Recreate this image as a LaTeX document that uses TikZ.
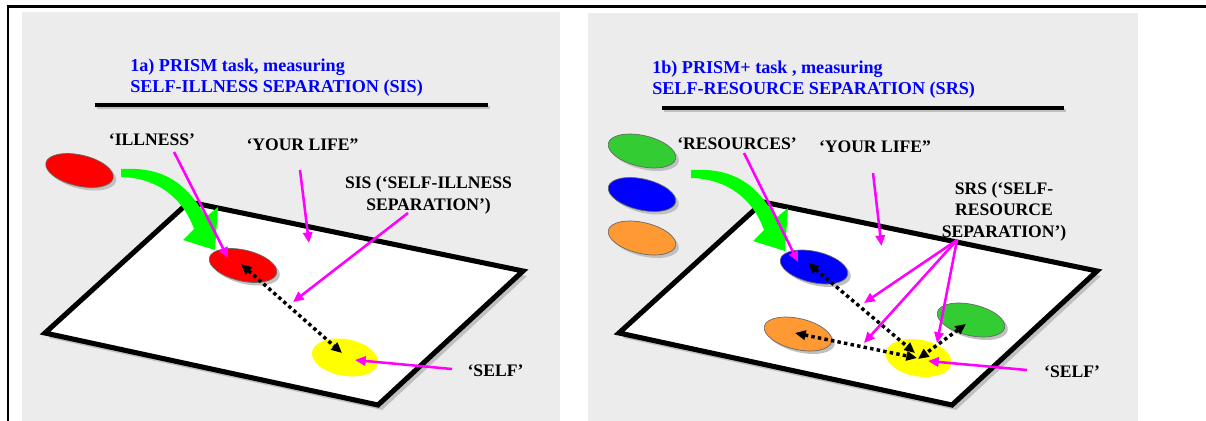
\documentclass[tikz,border=0pt]{standalone}
\usepackage{fontspec}
\setmainfont{Liberation Serif}
\newfontfamily\tnr{Liberation Serif}
\usetikzlibrary{shapes.geometric,arrows.meta,shadows}
\definecolor{panelgray}{RGB}{236,236,236}
\definecolor{shadowgray}{RGB}{192,192,192}
\definecolor{mag}{RGB}{255,0,255}
\definecolor{ttlblue}{RGB}{0,0,255}
\definecolor{grnarrow}{RGB}{0,255,0}
\definecolor{ellred}{RGB}{255,0,0}
\definecolor{ellyellow}{RGB}{255,255,0}
\definecolor{ellblue}{RGB}{0,0,255}
\definecolor{ellgreen}{RGB}{51,204,51}
\definecolor{ellorange}{RGB}{255,153,51}
\begin{document}
\begin{tikzpicture}[x=0.75pt,y=-0.75pt,
  ell/.style={ellipse, draw=black!60, line width=0.5pt, inner sep=0pt,
    minimum width=51.75pt, minimum height=23.25pt, rotate=-13,
    drop shadow={shadow xshift=2.25pt, shadow yshift=-2.25pt, opacity=1, fill=shadowgray}},
  selfell/.style={ellipse, fill=ellyellow, inner sep=0pt,
    minimum width=50pt, minimum height=27.5pt, rotate=-10},
  lbl/.style={font=\tnr\fontsize{13.2pt}{15.9pt}\selectfont\bfseries, inner sep=0pt, text=black},
  ttl/.style={font=\tnr\fontsize{13.6pt}{15.75pt}\selectfont\bfseries, inner sep=0pt, text=ttlblue},
  magarrow/.style={draw=mag, line width=1.9pt, -{Triangle[length=8pt,width=7pt]}},
  dotarrow/.style={draw=black, line width=2.6pt, dash pattern=on 2.6pt off 2.4pt,
    {Triangle[length=8pt,width=7pt]}-{Triangle[length=8pt,width=7pt]}},
  paperstyle/.style={fill=white, draw=black, line width=3.8pt, line join=miter},
  uline/.style={line width=2.4pt}
]
\useasboundingbox (0,0) rectangle (1206,421);
% frame lines
\draw[line width=1.6pt] (7,6.5) -- (1206,6.5);
\draw[line width=1.6pt] (8,6) -- (8,421);
% panels
\fill[panelgray] (22,12) rectangle (560,421);
\fill[panelgray] (588,13) rectangle (1138,421);

% ---------- LEFT PANEL ----------
\draw[uline, shadowgray] (96.5,107.5) -- (490,107.5);
\draw[uline] (94.5,105) -- (488,105);
\node[ttl, anchor=base west, align=left] (ttlA) at (130,92.5) {1a) PRISM task, measuring\\SELF-ILLNESS SEPARATION (SIS)};

\fill[shadowgray] (193,207) -- (527,276) -- (382,410) -- (49,338) -- cycle;
\draw[paperstyle] (189,202) -- (523,271) -- (378,405) -- (45,333) -- cycle;

\fill[grnarrow] (121,169) .. controls (170,166) and (190,190) .. (206,217)
  -- (218,207) -- (215,250) -- (183,240) -- (194,229)
  .. controls (185,203) and (162,178) .. (121,177) -- cycle;

\node[ell, fill=ellred] (illOut) at (79.5,170.5) {};
\node[ell, fill=ellred] (illIn) at (243,265.5) {};
\node[selfell] (selfA) at (345,357.5) {};

\coordinate (dA1) at (241,264);
\coordinate (dA2) at (342,353);
\draw[dotarrow] (dA1) -- (dA2);

\node[lbl, anchor=base] (illnessT) at (152,145) {‘ILLNESS’};
\node[lbl, anchor=base] (lifeAT) at (302.5,150) {‘YOUR LIFE”};
\node[lbl, anchor=base, align=center] (sisT) at (428.5,210) {SIS (‘SELF-ILLNESS\\SEPARATION’)};
\node[lbl, anchor=base] (selfAT) at (495.5,376) {‘SELF’};

\coordinate (mA1s) at (174,152);  \coordinate (mA1e) at (228,258);
\coordinate (mA2s) at (300,170);  \coordinate (mA2e) at (309,243);
\coordinate (mA3s) at (408,213);  \coordinate (mA3e) at (293,302);
\coordinate (mA4s) at (452,369);  \coordinate (mA4e) at (355,360);
\draw[magarrow] (mA1s) -- (mA1e);
\draw[magarrow] (mA2s) -- (mA2e);
\draw[magarrow] (mA3s) -- (mA3e);
\draw[magarrow] (mA4s) -- (mA4e);

% ---------- RIGHT PANEL ----------
\draw[uline, shadowgray] (664,110.5) -- (1066,110.5);
\draw[uline] (662,108) -- (1064,108);
\node[ttl, anchor=base west, align=left] (ttlB) at (652,94.5) {1b) PRISM+ task , measuring\\SELF-RESOURCE SEPARATION (SRS)};

\fill[shadowgray] (767,207) -- (1101,276) -- (956,410) -- (623,338) -- cycle;
\draw[paperstyle] (763,202) -- (1097,271) -- (952,405) -- (619,333) -- cycle;

\begin{scope}[shift={(570,1)}]
\fill[grnarrow] (121,169) .. controls (170,166) and (190,190) .. (206,217)
  -- (218,207) -- (215,250) -- (183,240) -- (194,229)
  .. controls (185,203) and (162,178) .. (121,177) -- cycle;
\end{scope}

\node[ell, fill=ellgreen] (resG) at (642,151) {};
\node[ell, fill=ellblue] (resB) at (642,194.5) {};
\node[ell, fill=ellorange] (resO) at (642,238) {};
\node[ell, fill=ellblue] (inB) at (814,267) {};
\node[ell, fill=ellorange] (inO) at (798,334) {};
\node[ell, fill=ellgreen] (inG) at (971,320) {};
\node[selfell] (selfB) at (918.5,358) {};

\coordinate (dB1) at (808,263);  \coordinate (dB2) at (915,353);
\coordinate (dO1) at (795,333);  \coordinate (dO2) at (917,358);
\coordinate (dG1) at (966,324);  \coordinate (dG2) at (918,359);
\draw[dotarrow] (dB1) -- (dB2);
\draw[dotarrow] (dO1) -- (dO2);
\draw[dotarrow] (dG1) -- (dG2);

\node[lbl, anchor=base] (resT) at (737,149) {‘RESOURCES’};
\node[lbl, anchor=base] (lifeBT) at (875,152) {‘YOUR LIFE”};
\node[lbl, anchor=base, align=center] (srsT) at (1004,237) {SRS (‘SELF-\\RESOURCE\\SEPARATION’)};
\node[lbl, anchor=base] (selfBT) at (1072,377) {‘SELF’};

\coordinate (mB1s) at (744,153);  \coordinate (mB1e) at (798,262);
\coordinate (mB2s) at (873,173);  \coordinate (mB2e) at (881.5,246);
\coordinate (fan) at (957,240);
\coordinate (mB3a) at (864,303);  \coordinate (mB3b) at (864,343);  \coordinate (mB3c) at (937,343);
\coordinate (mB4s) at (1027,370); \coordinate (mB4e) at (928,361);
\draw[magarrow] (mB1s) -- (mB1e);
\draw[magarrow] (mB2s) -- (mB2e);
\draw[magarrow] (fan) -- (mB3a);
\draw[magarrow] (fan) -- (mB3b);
\draw[magarrow] (fan) -- (mB3c);
\draw[magarrow] (mB4s) -- (mB4e);
\end{tikzpicture}
\end{document}
